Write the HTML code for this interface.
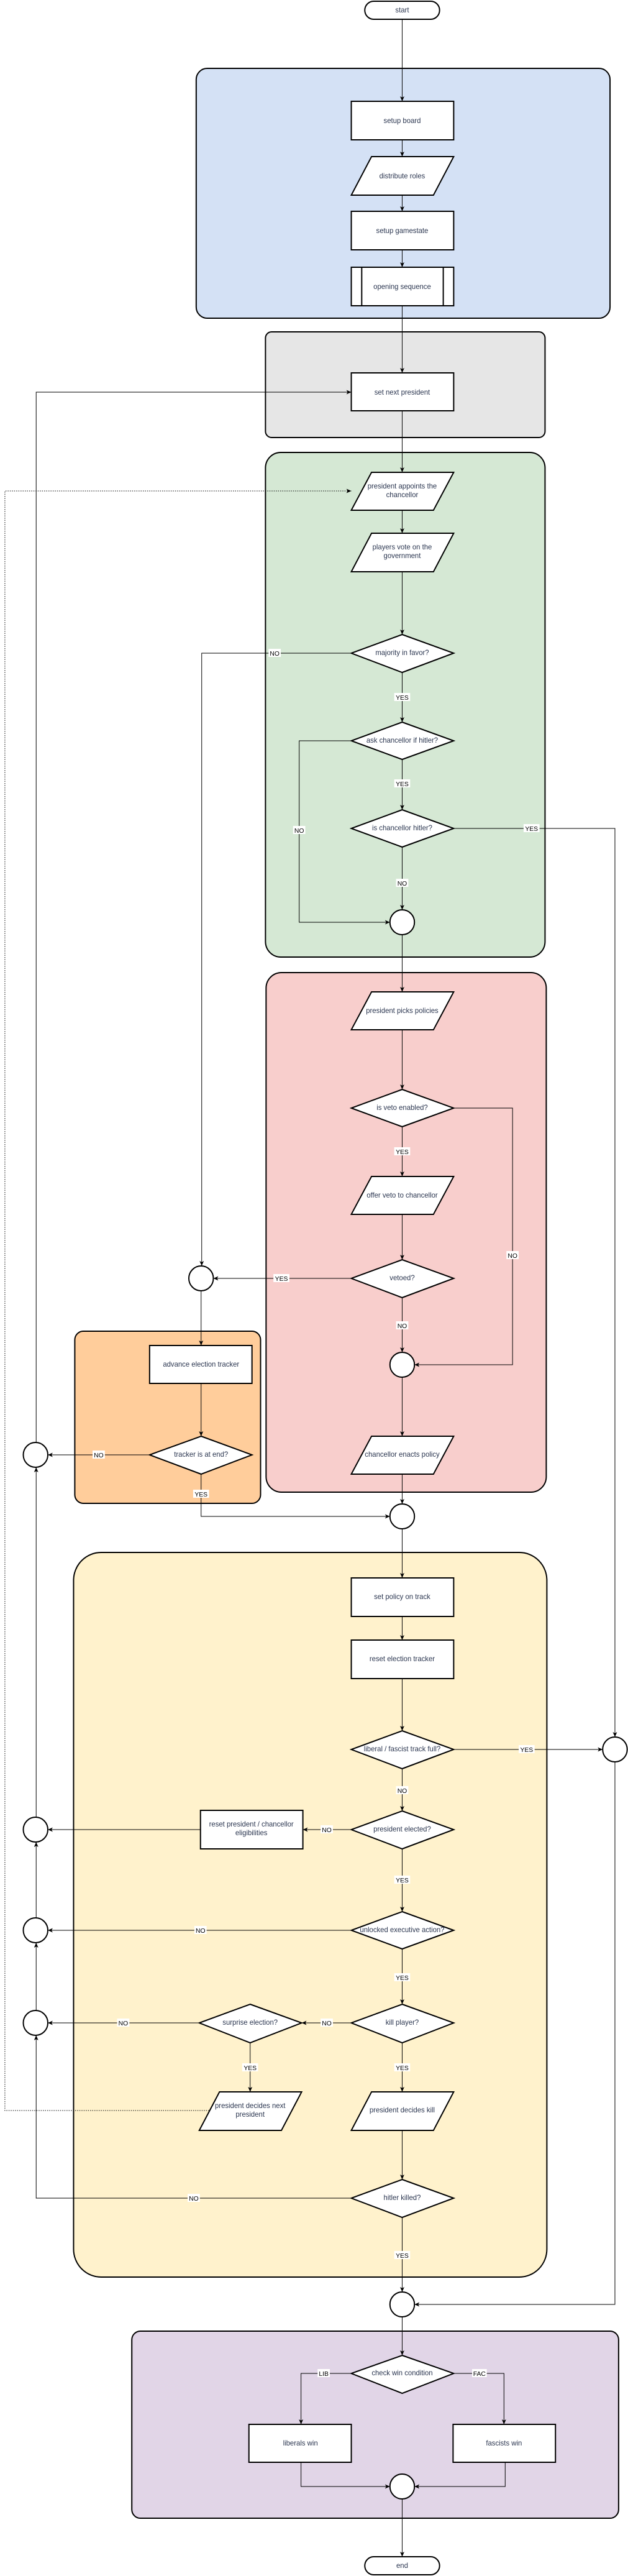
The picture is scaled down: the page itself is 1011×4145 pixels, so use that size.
<!DOCTYPE html>
<html><head><meta charset="utf-8"><style>
html,body{margin:0;padding:0;background:#fff;}
svg{display:block;}
text{font-family:"Liberation Sans",sans-serif;font-size:11.5px;fill:#2b3650;text-anchor:middle;}
.l{fill:#000;font-size:10.5px;}
</style></head><body>
<svg width="1011" height="4145" viewBox="0 0 1011 4145" xmlns="http://www.w3.org/2000/svg">
<defs>
<marker id="a" markerWidth="10" markerHeight="10" refX="9" refY="5" orient="auto" markerUnits="userSpaceOnUse">
<path d="M1,1.5 L9,5 L1,8.5 L3,5 Z" fill="#000"/></marker>
</defs>
<g transform="scale(0.987,1)">
<!-- containers -->
<g stroke="#000" stroke-width="2">
<rect x="320" y="110" width="675" height="402" rx="18" fill="#d4e1f5"/>
<rect x="433" y="534" width="456" height="170" rx="10" fill="#e6e6e6"/>
<rect x="433" y="728" width="456" height="812" rx="25" fill="#d5e8d4"/>
<rect x="434" y="1565" width="457" height="836" rx="25" fill="#f8cecc"/>
<rect x="122" y="2142" width="303" height="277" rx="14" fill="#ffcd9b"/>
<rect x="120" y="2498" width="772" height="1166" rx="45" fill="#fff2cc"/>
<rect x="215" y="3751" width="794" height="301" rx="14" fill="#e1d5e7"/>
</g>
<!-- connectors -->
<g fill="none" stroke="#000" stroke-width="1" marker-end="url(#a)">
<path d="M656,31V163"/><path d="M656,225V252"/><path d="M656,314V340"/><path d="M656,402V430"/>
<path d="M656,492V600"/><path d="M656,661V760"/><path d="M656,821V858"/><path d="M656,920V1021"/>
<path d="M573,1051H329V2037"/>
<path d="M656,1082V1162"/>
<path d="M573,1192H488V1484H636"/>
<path d="M656,1222V1303"/>
<path d="M740,1333H1003V2795"/>
<path d="M656,1363V1464"/>
<path d="M656,1504V1596"/><path d="M656,1657V1753"/><path d="M656,1813V1893"/><path d="M656,1954V2027"/>
<path d="M740,1783H836V2196H676"/>
<path d="M573,2057H348"/>
<path d="M656,2088V2176"/>
<path d="M656,2216V2311"/>
<path d="M328,2077V2165"/><path d="M328,2226V2311"/>
<path d="M244,2341H78"/>
<path d="M328,2372V2440H636"/>
<path d="M656,2372V2420"/><path d="M656,2460V2539"/><path d="M656,2601V2639"/><path d="M656,2701V2785"/>
<path d="M740,2815H983"/>
<path d="M656,2846V2914"/>
<path d="M573,2944H494"/><path d="M327,2944H78"/>
<path d="M656,2975V3076"/>
<path d="M573,3106H78"/>
<path d="M656,3136V3225"/>
<path d="M573,3255H492"/><path d="M325,3255H78"/>
<path d="M408,3287V3366"/><path d="M656,3287V3366"/>
<path d="M656,3428V3507"/>
<path d="M573,3537H59V3275"/>
<path d="M656,3568V3688"/>
<path d="M1003,2835V3708H676"/>
<path d="M656,3728V3790"/>
<path d="M573,3819H491V3901"/><path d="M740,3819H822V3901"/>
<path d="M491,3962V4001H636"/><path d="M824,3962V4001H676"/>
<path d="M656,4021V4114"/>
<path d="M59,2321V631H573"/>
<path d="M59,2924V2361"/><path d="M59,3086V2964"/><path d="M59,3235V3126"/>
<path d="M341,3396H8V790H573" stroke-dasharray="1.5,2"/>
</g>
<!-- nodes -->
<g stroke="#000" stroke-width="2" fill="#fff">
<rect x="595" y="2" width="122" height="29" rx="14.5"/>
<rect x="573" y="163" width="167" height="62"/>
<polygon points="606,252 740,252 707,314 573,314"/>
<rect x="573" y="340" width="167" height="62"/>
<rect x="573" y="430" width="167" height="62"/>
<line x1="590" y1="430" x2="590" y2="492"/><line x1="723" y1="430" x2="723" y2="492"/>
<rect x="573" y="600" width="167" height="61"/>
<polygon points="606,760 740,760 707,821 573,821"/>
<polygon points="606,858 740,858 707,920 573,920"/>
<polygon points="656,1021 740,1051 656,1082 573,1051"/>
<polygon points="656,1162 740,1192 656,1222 573,1192"/>
<polygon points="656,1303 740,1333 656,1363 573,1333"/>
<ellipse cx="656" cy="1484" rx="20" ry="20"/>
<polygon points="606,1596 740,1596 707,1657 573,1657"/>
<polygon points="656,1753 740,1783 656,1813 573,1783"/>
<polygon points="606,1893 740,1893 707,1954 573,1954"/>
<polygon points="656,2027 740,2057 656,2088 573,2057"/>
<ellipse cx="328" cy="2057" rx="20" ry="20"/>
<ellipse cx="656" cy="2196" rx="20" ry="20"/>
<rect x="244" y="2165" width="167" height="61"/>
<polygon points="328,2311 411,2341 328,2372 244,2341"/>
<ellipse cx="58" cy="2341" rx="20" ry="20"/>
<polygon points="606,2311 740,2311 707,2372 573,2372"/>
<ellipse cx="656" cy="2440" rx="20" ry="20"/>
<rect x="573" y="2539" width="167" height="62"/>
<rect x="573" y="2639" width="167" height="62"/>
<polygon points="656,2785 740,2815 656,2846 573,2815"/>
<ellipse cx="1003" cy="2815" rx="20" ry="20"/>
<polygon points="656,2914 740,2944 656,2975 573,2944"/>
<rect x="327" y="2913" width="167" height="62"/>
<ellipse cx="58" cy="2944" rx="20" ry="20"/>
<polygon points="656,3076 740,3106 656,3136 573,3106"/>
<ellipse cx="58" cy="3106" rx="20" ry="20"/>
<polygon points="656,3225 740,3255 656,3287 573,3255"/>
<polygon points="408,3225 492,3255 408,3287 325,3255"/>
<ellipse cx="58" cy="3255" rx="20" ry="20"/>
<polygon points="358,3366 492,3366 459,3428 325,3428"/>
<polygon points="606,3366 740,3366 707,3428 573,3428"/>
<polygon points="656,3507 740,3537 656,3568 573,3537"/>
<ellipse cx="656" cy="3708" rx="20" ry="20"/>
<polygon points="656,3790 740,3819 656,3851 573,3819"/>
<rect x="406" y="3901" width="167" height="61"/>
<rect x="739" y="3901" width="167" height="61"/>
<ellipse cx="656" cy="4001" rx="20" ry="20"/>
<rect x="595" y="4114" width="122" height="29" rx="14.5"/>
</g>
<!-- node text -->
<text x="656" y="20">start</text>
<text x="656" y="198">setup board</text>
<text x="656" y="287">distribute roles</text>
<text x="656" y="375">setup gamestate</text>
<text x="656" y="465">opening sequence</text>
<text x="656" y="635">set next president</text>
<text x="656" y="786">president appoints the</text>
<text x="656" y="800">chancellor</text>
<text x="656" y="884">players vote on the</text>
<text x="656" y="898">government</text>
<text x="656" y="1054">majority in favor?</text>
<text x="656" y="1195">ask chancellor if hitler?</text>
<text x="656" y="1336">is chancellor hitler?</text>
<text x="656" y="1630">president picks policies</text>
<text x="656" y="1786">is veto enabled?</text>
<text x="656" y="1927">offer veto to chancellor</text>
<text x="656" y="2060">vetoed?</text>
<text x="328" y="2199">advance election tracker</text>
<text x="328" y="2344">tracker is at end?</text>
<text x="656" y="2344">chancellor enacts policy</text>
<text x="656" y="2573">set policy on track</text>
<text x="656" y="2673">reset election tracker</text>
<text x="656" y="2818">liberal / fascist track full?</text>
<text x="656" y="2947">president elected?</text>
<text x="410" y="2939">reset president / chancellor</text>
<text x="410" y="2953">eligibilities</text>
<text x="656" y="3109">unlocked executive action?</text>
<text x="656" y="3258">kill player?</text>
<text x="408" y="3258">surprise election?</text>
<text x="408" y="3392">president decides next</text>
<text x="408" y="3406">president</text>
<text x="656" y="3399">president decides kill</text>
<text x="656" y="3540">hitler killed?</text>
<text x="656" y="3822">check win condition</text>
<text x="490" y="3935">liberals win</text>
<text x="822" y="3935">fascists win</text>
<text x="656" y="4132">end</text>
<!-- edge labels -->
<g>
<g fill="#fff">
<rect x="438" y="1044" width="20" height="13"/><rect x="643" y="1115" width="26" height="13"/>
<rect x="478" y="1329" width="20" height="13"/><rect x="643" y="1254" width="26" height="13"/>
<rect x="854" y="1326" width="26" height="13"/><rect x="646" y="1414" width="20" height="13"/>
<rect x="643" y="1846" width="26" height="13"/><rect x="826" y="2013" width="20" height="13"/>
<rect x="446" y="2050" width="26" height="13"/><rect x="646" y="2126" width="20" height="13"/>
<rect x="151" y="2334" width="20" height="13"/><rect x="315" y="2397" width="26" height="13"/>
<rect x="846" y="2808" width="26" height="13"/><rect x="646" y="2874" width="20" height="13"/>
<rect x="523" y="2937" width="20" height="13"/><rect x="643" y="3018" width="26" height="13"/>
<rect x="317" y="3099" width="20" height="13"/><rect x="643" y="3175" width="26" height="13"/>
<rect x="523" y="3248" width="20" height="13"/><rect x="191" y="3248" width="20" height="13"/>
<rect x="395" y="3320" width="26" height="13"/><rect x="643" y="3320" width="26" height="13"/>
<rect x="306" y="3530" width="20" height="13"/><rect x="643" y="3622" width="26" height="13"/>
<rect x="518" y="3812" width="20" height="13"/><rect x="770" y="3812" width="24" height="13"/>
</g>
<text class="l" x="448" y="1055">NO</text><text class="l" x="656" y="1126">YES</text>
<text class="l" x="488" y="1340">NO</text><text class="l" x="656" y="1265">YES</text>
<text class="l" x="867" y="1337">YES</text><text class="l" x="656" y="1425">NO</text>
<text class="l" x="656" y="1857">YES</text><text class="l" x="836" y="2024">NO</text>
<text class="l" x="459" y="2061">YES</text><text class="l" x="656" y="2137">NO</text>
<text class="l" x="161" y="2345">NO</text><text class="l" x="328" y="2408">YES</text>
<text class="l" x="859" y="2819">YES</text><text class="l" x="656" y="2885">NO</text>
<text class="l" x="533" y="2948">NO</text><text class="l" x="656" y="3029">YES</text>
<text class="l" x="327" y="3110">NO</text><text class="l" x="656" y="3186">YES</text>
<text class="l" x="533" y="3259">NO</text><text class="l" x="201" y="3259">NO</text>
<text class="l" x="408" y="3331">YES</text><text class="l" x="656" y="3331">YES</text>
<text class="l" x="316" y="3541">NO</text><text class="l" x="656" y="3633">YES</text>
<text class="l" x="528" y="3823">LIB</text><text class="l" x="782" y="3823">FAC</text>
</g>
</g>
</svg>
</body></html>
